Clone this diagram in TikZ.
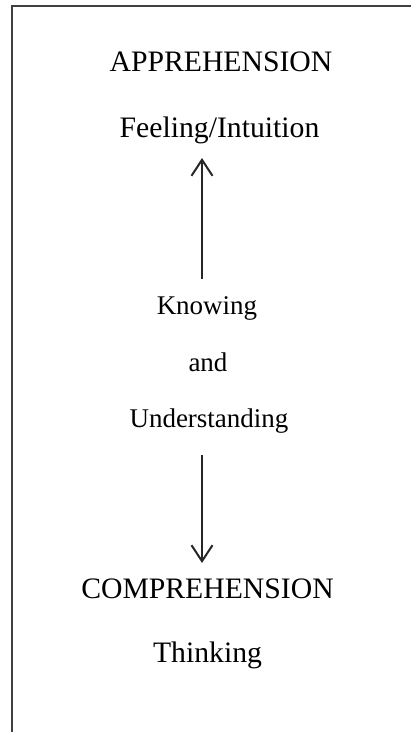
\documentclass[tikz,border=0pt]{standalone}
\usepackage{fontspec}
\setmainfont{Liberation Serif}
\usetikzlibrary{arrows.meta}
\begin{document}
\begin{tikzpicture}[x=1pt,y=-1pt,
  big/.style={anchor=base,inner sep=0pt,font=\fontsize{29.7}{30}\selectfont},
  small/.style={anchor=base,inner sep=0pt,font=\fontsize{27}{28}\selectfont},
  link/.style={line width=2pt,draw=black!85,
    -{Straight Barb[length=16pt,width=21pt,line width=2pt]}},
  frame/.style={line width=2.2pt,draw=black!75}]
\useasboundingbox (0,0) rectangle (411,732);
% outer frame, only its top and left edges fall inside the page
\draw[frame] (12,760) -- (12,6) -- (440,6);
% labels
\node[big]   (appr)  at (221,71)  {APPREHENSION};
\node[big]   (feel)  at (219.5,137) {Feeling/Intuition};
\node[small] (know)  at (207,314) {Knowing};
\node[small] (and)   at (208,371) {and};
\node[small] (under) at (209,427) {Understanding};
\node[big]   (comp)  at (207.5,598) {COMPREHENSION};
\node[big]   (think) at (207.5,662) {Thinking};
% arrow ends on the common axis
\coordinate (upS) at (202,279);
\coordinate (upE) at (202,158);
\coordinate (dnS) at (202,455);
\coordinate (dnE) at (202,563);
\draw[link] (upS) -- (upE);
\draw[link] (dnS) -- (dnE);
\end{tikzpicture}
\end{document}
